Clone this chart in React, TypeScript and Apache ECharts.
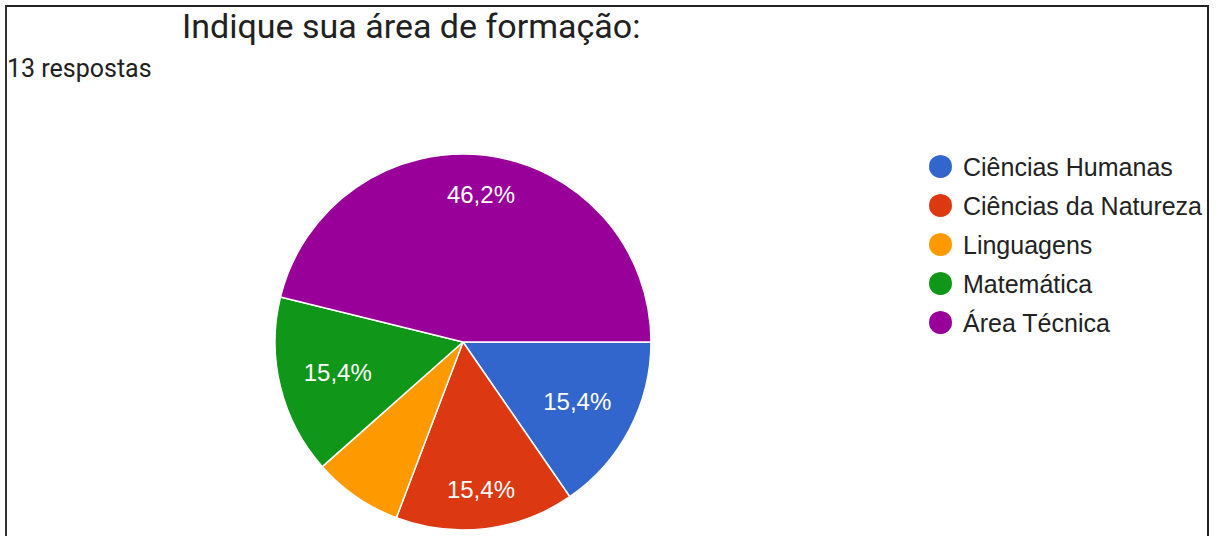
import React, { useEffect, useRef } from "react";
import * as echarts from "echarts";

const chartTitle = "Indique sua área de formação:";
const subtitle = "13 respostas";
const categories = ["Ciências Humanas", "Ciências da Natureza", "Linguagens", "Matemática", "Área Técnica"];
const counts = [2, 2, 1, 2, 6];
const colors = ["#3366cc", "#dc3912", "#ff9900", "#109618", "#990099"];
// which label ring each slice's percentage sits on (outer or inner)
const labelRing = ["inner", "outer", "none", "inner", "outer"];

export default function App() {
  const ref = useRef<HTMLDivElement>(null);
  useEffect(() => {
    document.body.style.margin = "0";
    const chart = echarts.init(ref.current!, null, { renderer: "svg" });
    const total = counts.reduce((a, b) => a + b, 0);
    const data = categories.map((name, i) => ({ name, value: counts[i] }));
    const labelSeries = (ring: string, inner: number) => ({
      type: "pie",
      center: [463, 342],
      radius: [inner, 188],
      startAngle: 0,
      clockwise: true,
      silent: true,
      data,
      itemStyle: { color: "rgba(0,0,0,0)", borderWidth: 0 },
      label: {
        show: true,
        position: "inside",
        fontFamily: "Liberation Sans",
        fontSize: 24,
        color: "#ffffff",
        formatter: (p: any) =>
          labelRing[p.dataIndex] !== ring
            ? ""
            : ((p.value / total) * 100).toFixed(1).replace(".", ",") + "%",
      },
      labelLine: { show: false },
      emphasis: { disabled: true },
    });
    chart.setOption({
      animation: false,
      backgroundColor: "#ffffff",
      color: colors,
      title: [
        {
          text: chartTitle,
          left: 182,
          top: 9,
          padding: 0,
          textStyle: { fontFamily: "Roboto", fontSize: 34, fontWeight: "normal", color: "#212121" },
        },
        {
          text: subtitle,
          left: 7,
          top: 56,
          padding: 0,
          textStyle: { fontFamily: "Roboto", fontSize: 25, fontWeight: "normal", color: "#212121" },
        },
      ],
      legend: {
        orient: "vertical",
        left: 927,
        top: 153,
        padding: 0,
        icon: "circle",
        itemWidth: 25,
        itemHeight: 25,
        itemGap: 12,
        data: categories,
        textStyle: {
          fontFamily: "Liberation Sans",
          fontSize: 25,
          lineHeight: 25,
          color: "#222222",
          padding: [0, 0, 0, 5],
        },
      },
      graphic: [
        { type: "line", shape: { x1: 5, y1: 6, x2: 1209, y2: 6 }, style: { stroke: "#222", lineWidth: 2 } },
        { type: "line", shape: { x1: 6, y1: 5, x2: 6, y2: 536 }, style: { stroke: "#333", lineWidth: 2 } },
        { type: "line", shape: { x1: 1208, y1: 5, x2: 1208, y2: 536 }, style: { stroke: "#222", lineWidth: 2 } },
      ],
      series: [
        {
          type: "pie",
          center: [463, 342],
          radius: [0, 188],
          startAngle: 0,
          clockwise: true,
          data,
          label: { show: false },
          labelLine: { show: false },
          itemStyle: { borderColor: "#ffffff", borderWidth: 1.5 },
          emphasis: { disabled: true },
        },
        labelSeries("outer", 104),
        labelSeries("inner", 64),
      ],
    });
    return () => chart.dispose();
  }, []);
  return <div ref={ref} style={{ width: 1217, height: 536 }} />;
}
